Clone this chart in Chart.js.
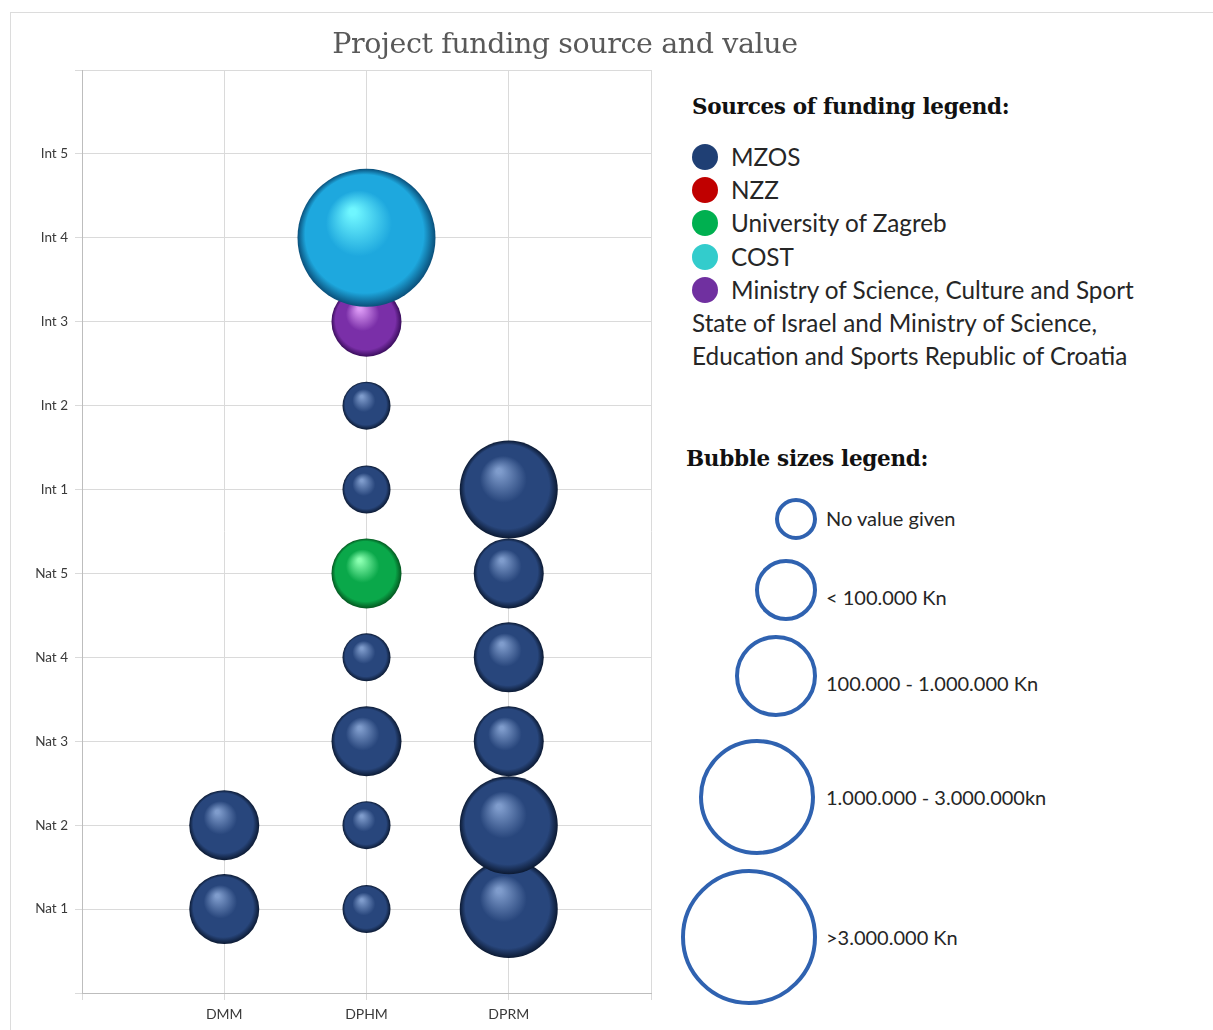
<!DOCTYPE html>
<html>
<head>
<meta charset="utf-8">
<script src="https://cdn.jsdelivr.net/npm/chart.js@4"></script>
<style>
  body { margin: 0; background: #fff; }
  #wrap { position: relative; width: 1213px; height: 1030px; overflow: hidden; }
  #frame { position: absolute; left: 10px; top: 12px; width: 1215px; height: 1030px; border: 1px solid #dcdcdc; }
  #chartBox { position: absolute; left: 0; top: 0; width: 660px; height: 1030px; }
  .title { position: absolute; left: 215px; width: 700px; top: 27px; text-align: center;
           font: 28.5px "DejaVu Serif", serif; color: #595959; letter-spacing: -0.4px; }
  .head { position: absolute; font: bold 21.5px "DejaVu Serif", serif; color: #111; letter-spacing: -0.3px; }
  .item { position: absolute; left: 731px; font: 24.3px Lato, sans-serif; color: #262626; line-height: 33px; }
  .dot { position: absolute; left: 692px; width: 26px; height: 26px; border-radius: 50%; }
  .ring { position: absolute; border: 4px solid #2f62b0; border-radius: 50%; box-sizing: border-box; }
  .size { position: absolute; left: 826px; font: 20px Lato, sans-serif; color: #262626; }
</style>
</head>
<body>
<div id="wrap">
  <div id="frame"></div>
  <div id="chartBox"><canvas id="bubbles"></canvas></div>
  <div class="title">Project funding source and value</div>
  <div id="legend"></div>
</div>
<script>
var departments = ['DMM', 'DPHM', 'DPRM'];
var projects = ['Nat 1', 'Nat 2', 'Nat 3', 'Nat 4', 'Nat 5', 'Int 1', 'Int 2', 'Int 3', 'Int 4', 'Int 5'];
var sources = ['MZOS', 'NZZ', 'University of Zagreb', 'COST', 'Ministry of Science, Culture and Sport'];
var sizeClasses = ['No value given', '< 100.000 Kn', '100.000 - 1.000.000 Kn', '1.000.000 - 3.000.000kn', '>3.000.000 Kn'];

// size class per project (1..5 as in sizeClasses, null = no project)
var dmmSize  = [3, 3, null, null, null, null, null, null, null, null];
var dphmSize = [2, 2, 3, 2, 3, 2, 2, 3, 5, null];
var dprmSize = [4, 4, 3, 3, 3, 4, null, null, null, null];

// funding source index per project
var dmmSource  = [0, 0, 0, 0, 0, 0, 0, 0, 0, 0];
var dphmSource = [0, 0, 0, 0, 2, 0, 0, 4, 3, 0];
var dprmSource = [0, 0, 0, 0, 0, 0, 0, 0, 0, 0];

var radius = { 1: 18, 2: 24, 3: 35, 4: 49, 5: 69 };
var legendColors = ['#1f3f74', '#c00000', '#00b050', '#33cccc', '#7030a0'];
// sphere colours: highlight, base, edge
var sphere = [
  ['#7f9ccc', '#28467c', '#0c1a33'],
  ['#ff8080', '#c00000', '#5a0000'],
  ['#8affb0', '#0aa84a', '#04561f'],
  ['#6ff6ff', '#1ea8de', '#0a4f7a'],
  ['#dc9af5', '#7a2fa8', '#3a0d5c']
];

function points(sizes, srcs, col) {
  var out = [];
  sizes.forEach(function (s, i) {
    if (s != null) out.push({ x: col, y: i + 1, r: radius[s], src: srcs[i] });
  });
  return out;
}

function sphereFill(ctx) {
  var chart = ctx.chart;
  var p = ctx.raw;
  if (!p || !chart.chartArea) return '#27447a';
  var c = sphere[p.src];
  var x = chart.scales.x.getPixelForValue(p.x);
  var y = chart.scales.y.getPixelForValue(p.y);
  var r = p.r;
  var g = chart.ctx.createRadialGradient(x - r * 0.2, y - r * 0.38, r * 0.05, x, y, r);
  g.addColorStop(0, c[0]);
  g.addColorStop(0.45, c[1]);
  g.addColorStop(0.85, c[1]);
  g.addColorStop(1, c[2]);
  return g;
}

var dsList = [
  points(dmmSize, dmmSource, 1),
  points(dphmSize, dphmSource, 2),
  points(dprmSize, dprmSource, 3)
].map(function (d, i) {
  return { label: departments[i], data: d, backgroundColor: sphereFill, borderWidth: 0,
           hoverBorderWidth: 0, clip: false };
});

new Chart('bubbles', {
  type: 'bubble',
  data: { datasets: dsList },
  options: {
    responsive: true,
    maintainAspectRatio: false,
    animation: false,
    layout: { autoPadding: false, padding: { top: 70, right: 9, left: 22, bottom: 0 } },
    plugins: { legend: { display: false }, tooltip: { enabled: false } },
    scales: {
      x: {
        type: 'linear', min: 0, max: 4,
        afterFit: function (s) { s.height = 37; },
        ticks: { stepSize: 1, padding: 6, color: '#3a3a3a', font: { family: 'Lato', size: 14 },
                 callback: function (v) { return departments[v - 1] || ''; } },
        grid: { color: '#dadada', tickLength: 7 },
        border: { color: '#bdbdbd' }
      },
      y: {
        type: 'linear', min: 0, max: 11,
        afterFit: function (s) { s.width = 60; },
        ticks: { stepSize: 1, padding: 7, color: '#3a3a3a', font: { family: 'Lato', size: 13.5 },
                 callback: function (v) { return projects[v - 1] || ''; } },
        grid: { color: '#dadada', tickLength: 7 },
        border: { color: '#bdbdbd' }
      }
    }
  }
});

// legends on the right
var lg = document.getElementById('legend');
var html = '<div class="head" style="left:692px;top:94px">Sources of funding legend:</div>';
sources.forEach(function (s, i) {
  var cy = 157 + i * 33.2;
  html += '<div class="dot" style="top:' + (cy - 13) + 'px;background:' + legendColors[i] + '"></div>';
  html += '<div class="item" style="top:' + (cy - 17) + 'px">' + s + '</div>';
});
html += '<div class="item" style="left:692px;top:306px">State of Israel and Ministry of Science,</div>';
html += '<div class="item" style="left:692px;top:339px">Education and Sports Republic of Croatia</div>';
html += '<div class="head" style="left:686px;top:446px">Bubble sizes legend:</div>';
var rings = [[796, 519, 21], [786, 590, 31], [776, 676, 41], [757, 797, 58], [749, 937, 68]];
var labelY = [518, 597, 683, 797, 937];
sizeClasses.forEach(function (s, i) {
  var c = rings[i];
  html += '<div class="ring" style="left:' + (c[0] - c[2]) + 'px;top:' + (c[1] - c[2]) + 'px;width:' +
          (2 * c[2]) + 'px;height:' + (2 * c[2]) + 'px"></div>';
  html += '<div class="size" style="top:' + (labelY[i] - 12) + 'px">' + s + '</div>';
});
lg.innerHTML = html;
</script>
</body>
</html>
